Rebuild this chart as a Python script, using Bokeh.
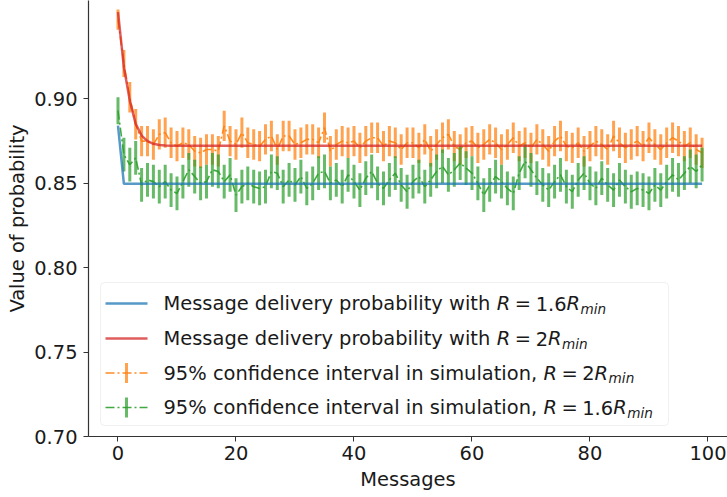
from bokeh.plotting import figure
from bokeh.models import Label, BoxAnnotation, FixedTicker, ColumnDataSource, Range1d, PrintfTickFormatter
from bokeh.embed import file_html
from bokeh.resources import INLINE

# ---------------- data ----------------
messages = list(range(100))

theory_r16 = [0.8842] + [0.8497] * 99
theory_r2 = [0.9514, 0.9188, 0.8990, 0.8852, 0.8783, 0.8750, 0.8734, 0.8727, 0.8724] + [0.8723] * 91

sim_r2_mean = [
    0.947, 0.921, 0.901, 0.885, 0.875, 0.875, 0.873, 0.879, 0.880, 0.874,
    0.872, 0.874, 0.873, 0.869, 0.868, 0.870, 0.870, 0.869, 0.884, 0.875,
    0.873, 0.880, 0.874, 0.873, 0.872, 0.876, 0.878, 0.870, 0.878, 0.878,
    0.873, 0.874, 0.876, 0.876, 0.874, 0.883, 0.869, 0.873, 0.875, 0.874,
    0.875, 0.871, 0.875, 0.877, 0.877, 0.872, 0.875, 0.874, 0.870, 0.874,
    0.874, 0.871, 0.876, 0.869, 0.873, 0.877, 0.879, 0.872, 0.870, 0.874,
    0.875, 0.871, 0.873, 0.876, 0.874, 0.870, 0.873, 0.877, 0.872, 0.874,
    0.871, 0.876, 0.873, 0.869, 0.875, 0.878, 0.872, 0.871, 0.874, 0.869,
    0.872, 0.875, 0.873, 0.870, 0.878, 0.874, 0.871, 0.873, 0.875, 0.872,
    0.877, 0.873, 0.870, 0.874, 0.877, 0.875, 0.872, 0.874, 0.870, 0.868]
sim_r2_err = [0.006, 0.008] + [0.009] * 98

sim_r16_mean = [
    0.893, 0.867, 0.861, 0.865, 0.849, 0.852, 0.851, 0.848, 0.851, 0.846,
    0.844, 0.851, 0.858, 0.854, 0.850, 0.851, 0.858, 0.857, 0.851, 0.855,
    0.843, 0.848, 0.850, 0.848, 0.847, 0.848, 0.857, 0.856, 0.848, 0.852,
    0.849, 0.854, 0.847, 0.850, 0.856, 0.857, 0.850, 0.852, 0.848, 0.855,
    0.851, 0.846, 0.853, 0.857, 0.850, 0.847, 0.852, 0.856, 0.849, 0.845,
    0.851, 0.854, 0.848, 0.852, 0.857, 0.860, 0.855, 0.858, 0.862, 0.859,
    0.856, 0.850, 0.843, 0.849, 0.854, 0.851, 0.847, 0.844, 0.856, 0.863,
    0.858, 0.853, 0.849, 0.846, 0.851, 0.855, 0.848, 0.845, 0.852, 0.856,
    0.850, 0.847, 0.853, 0.849, 0.846, 0.852, 0.848, 0.845, 0.847, 0.846,
    0.844, 0.849, 0.846, 0.851, 0.855, 0.852, 0.856, 0.860, 0.857, 0.861]
sim_r16_err = [0.008] + [0.010] * 99

x_ticks = [0, 20, 40, 60, 80, 100]
y_ticks = [0.70, 0.75, 0.80, 0.85, 0.90]

legend_labels = [
    ("Message delivery probability with", "1.6"),
    ("Message delivery probability with", "2"),
    ("95% confidence interval in simulation,", "2"),
    ("95% confidence interval in simulation,", "1.6"),
]

# ---------------- style / layout ----------------
BLUE, ORANGE, GREEN, RED = "#1f77b4", "#ff7f0e", "#2ca02c", "#d62728"
FONT = "DejaVu Sans"
FSN = 19.44
FS = f"{FSN}px"
SUB = f"{FSN * 0.7:.2f}px"
TXT = "#1a1a1a"

W, H = 727, 497
BL, BR, BT, BB = 88, 0, 0, 61
X0, X1 = -5.0, 103.31
Y0, Y1 = 0.70, 0.9583

# image-pixel -> data helpers (used only to place the hand-drawn legend)
FL, FR, FT, FB = BL, W - BR, BT, H - BB


def ix(px):
    return X0 + (px - FL) / (FR - FL) * (X1 - X0)


def iy(py):
    return Y0 + (FB - py) / (FB - FT) * (Y1 - Y0)


p = figure(width=W, height=H, x_range=Range1d(X0, X1), y_range=Range1d(Y0, Y1),
           output_backend="svg", toolbar_location=None,
           min_border_left=BL, min_border_right=BR, min_border_top=BT, min_border_bottom=BB)
p.outline_line_color = None
p.grid.visible = False
p.background_fill_color = "white"
p.border_fill_color = "white"

for ax in (p.xaxis, p.yaxis):
    ax.axis_line_color = "#333333"
    ax.axis_line_width = 1.2
    ax.major_tick_line_color = "#333333"
    ax.major_tick_out = 5
    ax.major_tick_in = 0
    ax.minor_tick_out = 0
    ax.minor_tick_in = 0
    ax.major_label_text_font = FONT
    ax.major_label_text_font_size = FS
    ax.major_label_text_color = TXT
    ax.axis_label_text_font = FONT
    ax.axis_label_text_font_size = FS
    ax.axis_label_text_font_style = "normal"
    ax.axis_label_text_color = TXT

p.xaxis.ticker = FixedTicker(ticks=x_ticks)
p.yaxis.ticker = FixedTicker(ticks=y_ticks)
p.yaxis.formatter = PrintfTickFormatter(format="%.2f")
p.xaxis.axis_label = "Messages"
p.yaxis.axis_label = "Value of probability"
p.xaxis.major_label_standoff = 4
p.xaxis.axis_label_standoff = 5
p.yaxis.major_label_standoff = 6
p.yaxis.axis_label_standoff = 2

# ---------------- data glyphs ----------------
src2 = ColumnDataSource(dict(x=messages, y=sim_r2_mean,
                             lo=[m - e for m, e in zip(sim_r2_mean, sim_r2_err)],
                             hi=[m + e for m, e in zip(sim_r2_mean, sim_r2_err)]))
src16 = ColumnDataSource(dict(x=messages, y=sim_r16_mean,
                              lo=[m - e for m, e in zip(sim_r16_mean, sim_r16_err)],
                              hi=[m + e for m, e in zip(sim_r16_mean, sim_r16_err)]))

DASHDOT = "9 3 2 3"
for src, col in ((src2, ORANGE), (src16, GREEN)):
    p.segment(x0="x", y0="lo", x1="x", y1="hi", source=src, line_color=col,
              line_width=3, line_alpha=0.72)
    p.line("x", "y", source=src, line_color=col, line_width=1.6, line_alpha=0.9,
           line_dash=DASHDOT)

p.line(messages, theory_r16, line_color=BLUE, line_width=2.5, line_alpha=0.75)
p.line(messages, theory_r2, line_color=RED, line_width=2.5, line_alpha=0.75)

# ---------------- legend (drawn by hand, for the math text) ----------------
p.add_layout(BoxAnnotation(left=ix(100), right=ix(668), top=iy(282), bottom=iy(425),
                           fill_color="white", fill_alpha=0.8, line_color="#cccccc",
                           line_width=1, border_radius=4, level="annotation"))

rows = [303, 338, 372.5, 407]
handle_cols = [BLUE, RED, ORANGE, GREEN]
for i, (ry, col) in enumerate(zip(rows, handle_cols)):
    if i < 2:
        p.line([ix(105), ix(147)], [iy(ry), iy(ry)], line_color=col, line_width=2.5,
               line_alpha=0.75, level="overlay")
    else:
        p.line([ix(105), ix(147)], [iy(ry), iy(ry)], line_color=col, line_width=1.6,
               line_alpha=0.9, line_dash=DASHDOT, level="overlay")
        p.segment(x0=[ix(126)], y0=[iy(ry - 10)], x1=[ix(126)], y1=[iy(ry + 10)],
                  line_color=col, line_width=3, line_alpha=0.72, level="overlay")

GAP = 4.5
# DejaVu Sans advance widths (em) of the plain legend texts, plus one space
TEXT_EM = {"Message delivery probability with": 16.83,
           "95% confidence interval in simulation,": 19.226}


def lab(px, py, text, size=FS, style="normal"):
    p.add_layout(Label(x=ix(px), y=iy(py), text=text, text_font=FONT, text_font_size=size,
                       text_font_style=style, text_color=TXT, text_baseline="middle",
                       text_align="left"))


for (txt, num), ry in zip(legend_labels, rows):
    lab(163, ry, txt)
    rx = 163 + (TEXT_EM[txt] + 0.318) * FSN
    lab(rx, ry, "R", style="italic")
    ex = rx + 0.695 * FSN + GAP
    lab(ex, ry, "=")
    nx = ex + 0.838 * FSN + GAP
    lab(nx, ry, num)
    r2x = nx + (1.59 if num == "1.6" else 0.636) * FSN
    lab(r2x, ry, "R", style="italic")
    lab(r2x + 0.695 * FSN + 0.5, ry + 5, "min", size=SUB, style="italic")

open("out.html", "w").write(file_html(p, INLINE))
